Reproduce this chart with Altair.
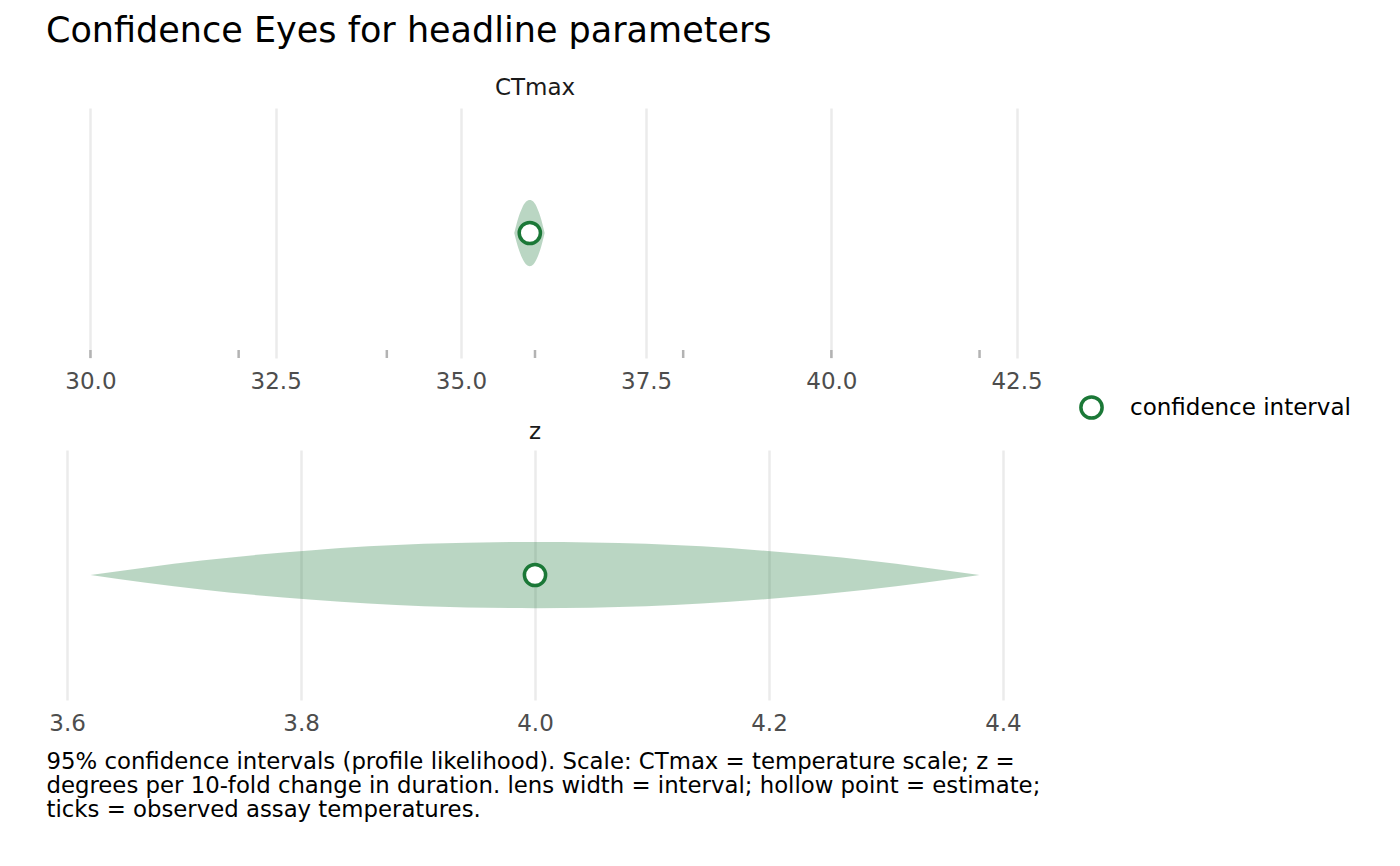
import altair as alt
import pandas as pd

FONT = "DejaVu Sans"
GREEN = "#1b7837"

# Headline parameter estimates with 95% profile-likelihood intervals
params = ["CTmax", "z"]
estimates = [35.93, 4.00]
lower = [35.72, 3.62]
upper = [36.13, 4.38]

# Observed assay temperatures (rug on the CTmax panel)
assay_temps = [30, 32, 34, 36, 38, 40, 42]

# Lens outline: position across the interval (-1 = lower, 0 = estimate, 1 = upper)
# and the relative half-height of the lens at that position
lens_pos = [-1.0, -0.75, -0.5, -0.25, 0.0, 0.25, 0.5, 0.75, 1.0]
lens_half = [0.0, 0.44, 0.75, 0.94, 1.0, 0.94, 0.75, 0.44, 0.0]
LENS_PEAK = 0.265

# Axis settings per panel
x_domains = [[29.4, 42.6], [3.582, 4.418]]
x_ticks = [[30.0, 32.5, 35.0, 37.5, 40.0, 42.5], [3.6, 3.8, 4.0, 4.2, 4.4]]
strip_offsets = [8, 6]

caption = [
    "95% confidence intervals (profile likelihood). Scale: CTmax = temperature scale; z =",
    "degrees per 10-fold change in duration. lens width = interval; hollow point = estimate;",
    "ticks = observed assay temperatures.",
]

W, H = 978, 250


def lens_frame(i):
    est, lo, hi = estimates[i], lower[i], upper[i]
    xs = [est + p * ((hi - est) if p >= 0 else (est - lo)) for p in lens_pos]
    return pd.DataFrame({
        "x": xs,
        "top": [h * LENS_PEAK for h in lens_half],
        "bottom": [-h * LENS_PEAK for h in lens_half],
    })


def panel(i, axis_title=""):
    x_scale = alt.Scale(domain=x_domains[i], nice=False, zero=False)
    y_scale = alt.Scale(domain=[-1, 1], nice=False, zero=False)
    title_kwargs = {}
    if isinstance(axis_title, list):
        title_kwargs = dict(
            titleAnchor="start", titleAlign="left", titleFontSize=22.8,
            titleFontWeight="normal", titleColor="#000000", titleFont=FONT,
            titleLineHeight=24, titlePadding=15, titleBaseline="top",
        )
    x_axis = alt.Axis(
        values=x_ticks[i], format=".1f", grid=True, gridColor="#ebebeb",
        gridWidth=2.5, ticks=False, domain=False, labelFontSize=23,
        labelColor="#4d4d4d", labelFont=FONT, labelPadding=12,
        title=axis_title, **title_kwargs,
    )
    x_enc = alt.X("x:Q", scale=x_scale, axis=x_axis)

    lens = alt.Chart(lens_frame(i)).mark_area(
        color=GREEN, opacity=0.3, interpolate="monotone"
    ).encode(
        x=x_enc,
        y=alt.Y("top:Q", scale=y_scale, axis=None),
        y2="bottom:Q",
    )

    pt_df = pd.DataFrame({"x": [estimates[i]], "y": [0.0], "kind": ["confidence interval"]})
    point = alt.Chart(pt_df).mark_point(
        shape="circle", fill="white", fillOpacity=1, strokeWidth=3.5, size=450, opacity=1
    ).encode(
        x=x_enc,
        y=alt.Y("y:Q", scale=y_scale, axis=None),
        stroke=alt.Stroke(
            "kind:N",
            scale=alt.Scale(domain=["confidence interval"], range=[GREEN]),
            legend=alt.Legend(title=None),
        ),
    )

    layers = [lens]
    if params[i] == "CTmax":
        rug_df = pd.DataFrame({"x": assay_temps, "y": [-1.0] * len(assay_temps),
                               "y2": [-0.936] * len(assay_temps)})
        rug = alt.Chart(rug_df).mark_rule(color="#b3b3b3", strokeWidth=2.5).encode(
            x=x_enc,
            y=alt.Y("y:Q", scale=y_scale, axis=None),
            y2="y2:Q",
        )
        layers.append(rug)
    layers.append(point)

    return alt.layer(*layers).properties(
        width=W, height=H,
        title=alt.TitleParams(params[i], fontSize=23, fontWeight="normal",
                              color="#1a1a1a", font=FONT, anchor="middle",
                              offset=strip_offsets[i]),
    )


chart = alt.vconcat(
    panel(0),
    panel(1, axis_title=caption),
    spacing=28,
).properties(
    title=alt.TitleParams(
        "Confidence Eyes for headline parameters", anchor="start", fontSize=35,
        fontWeight="normal", color="#000000", font=FONT, offset=28,
    ),
    padding={"left": 46, "top": 14, "right": 5, "bottom": 5},
).configure_view(
    stroke=None
).configure_legend(
    orient="none", legendX=1033, legendY=287, labelFontSize=23,
    labelFont=FONT, labelColor="#000000", symbolSize=450, symbolStrokeWidth=3.5,
    symbolFillColor="white", symbolType="circle", labelOffset=26, labelLimit=0,
)

chart.save("out.html", embed_options={"renderer": "svg", "actions": False})
